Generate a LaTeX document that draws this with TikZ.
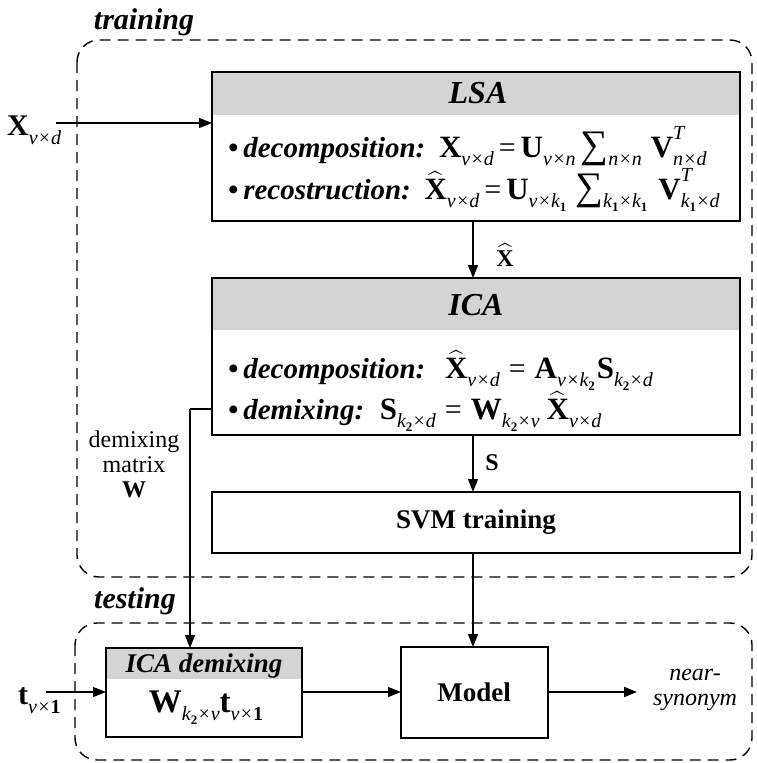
\documentclass[tikz,border=0pt]{standalone}
\usepackage{amsmath}
\usepackage{exscale}
\usepackage{graphicx}
\usepackage{fontspec}
\setmainfont{Liberation Serif}
\usetikzlibrary{arrows.meta}
\newcommand\mbx[1]{{\fontsize{31}{31}\selectfont\bfseries\upshape #1}}
\newcommand\sbt[1]{\raisebox{-0.3em}{\fontsize{20}{20}\selectfont\mdseries\itshape #1}}
\newcommand\one{\raisebox{-0.2em}{\fontsize{13}{13}\selectfont\bfseries\upshape 1}}
\newcommand\two{\raisebox{-0.2em}{\fontsize{13}{13}\selectfont\bfseries\upshape 2}}
\newcommand\uone{{\upshape\bfseries 1}}
\newcommand\spt[1]{\rlap{\raisebox{0.62em}{\fontsize{20}{20}\selectfont\mdseries\itshape #1}}}
\newcommand\Xhat{$\widehat{\hbox{\fontsize{31}{31}\selectfont\bfseries\upshape X}}$}
\newcommand\Sig{{\fontsize{30}{30}\selectfont\mdseries\upshape\scalebox{1.3}{∑}}}
\newcommand\eqs{\hspace{5pt}{\fontsize{30}{30}\selectfont\mdseries\upshape =}\hspace{5pt}}
\newcommand\eqw{\hspace{9pt}{\fontsize{30}{30}\selectfont\mdseries\upshape =}\hspace{9pt}}
\begin{document}
\begin{tikzpicture}[x=1pt,y=-1pt,
  blk/.style={draw,line width=2.4pt},
  hdr/.style={fill=black!17},
  dbox/.style={draw,dashed,line width=1.4pt,dash pattern=on 11pt off 7pt,rounded corners=22pt},
  arr/.style={line width=1.1pt,-{Triangle[length=13pt,width=10pt]}},
  ln/.style={line width=1.1pt},
  big/.style={font=\fontsize{30}{34}\selectfont\bfseries\itshape},
  ttl/.style={font=\fontsize{32}{36}\selectfont\bfseries\itshape},
  lab/.style={font=\fontsize{27}{30}\selectfont\bfseries},
  eq/.style={font=\fontsize{29}{32}\selectfont\bfseries\itshape,anchor=base west,inner sep=0pt}
]
\useasboundingbox (0,0) rectangle (757,763);
% dashed groups
\draw[dbox] (77,40) rectangle (752,577);
\draw[dbox] (75,623) rectangle (752,760);
\node[big] (trn) at (144,22) {training};
\node[big] (tst) at (135,601) {testing};
% LSA
\fill[hdr] (212,72) rectangle (740,115);
\draw[blk] (212,72) rectangle (740,221);
\node[ttl] (lsat) at (478,93) {LSA};
\node[eq] (l1) at (228,157) {•\hspace{5pt}decomposition:\hspace{4pt} \mbx{X}\sbt{v×d}\eqs\mbx{U}\sbt{v×n}\hspace{5pt}\Sig\sbt{n×n}\hspace{9pt}\mbx{V}\spt{T}\sbt{n×d}};
\node[eq] (l2) at (228,199) {•\hspace{5pt}recostruction:\hspace{4pt} \Xhat\sbt{v×d}\eqs\mbx{U}\sbt{v×k\one}\hspace{9pt}\Sig\sbt{k\one×k\one}\hspace{11pt}\mbx{V}\spt{T}\sbt{k\one×d}};
\coordinate (lsaL) at (212,123);
\coordinate (lsaB) at (473,221);
% ICA
\fill[hdr] (212,278) rectangle (740,330);
\draw[blk] (212,278) rectangle (740,435);
\node[ttl] (icat) at (476,305) {ICA};
\node[eq] (i1) at (228,378) {•\hspace{5pt}decomposition:\hspace{10pt} \Xhat\sbt{v×d}\eqw\mbx{A}\sbt{v×k\two}\hspace{2pt}\mbx{S}\sbt{k\two×d}};
\node[eq] (i2) at (228,419) {•\hspace{5pt}demixing:\hspace{6pt} \mbx{S}\sbt{k\two×d}\eqw\mbx{W}\sbt{k\two×v}\hspace{7pt}\Xhat\sbt{v×d}};
\coordinate (icaT) at (473,278);
\coordinate (icaB) at (473,435);
\coordinate (icaL) at (212,409);
% SVM
\draw[blk] (212,492) rectangle (740,553);
\node[font=\fontsize{27}{30}\selectfont\bfseries] (svm) at (476,522) {SVM training};
\coordinate (svmT) at (473,492);
\coordinate (svmB) at (473,553);
% ICA demixing
\fill[hdr] (106,648) rectangle (302,679);
\draw[blk] (106,648) rectangle (302,737);
\node[font=\fontsize{27}{30}\selectfont\bfseries\itshape] (idt) at (204,666) {ICA demixing};
\node[font=\fontsize{26}{30}\selectfont\bfseries\itshape] (idf) at (206,708) {{\fontsize{33}{33}\selectfont\bfseries\upshape W}\sbt{k\two×v}{\fontsize{33}{33}\selectfont\bfseries\upshape t}\sbt{v×\uone}};
\coordinate (idT) at (190,648);
\coordinate (idL) at (106,692);
\coordinate (idR) at (302,692);
% Model
\draw[blk] (401,647) rectangle (548,738);
\node[lab] (mdl) at (474,692) {Model};
\coordinate (mdT) at (473,647);
\coordinate (mdL) at (401,692);
\coordinate (mdR) at (548,692);
% inputs/outputs
\node[font=\fontsize{30}{32}\selectfont\bfseries,inner sep=0pt,anchor=base west] (xin) at (7,135) {X\sbt{v×d}};
\coordinate (xinR) at (56,123);
\node[font=\fontsize{30}{32}\selectfont\bfseries,inner sep=0pt,anchor=base west] (tin) at (18,704) {t\sbt{v×\uone}};
\coordinate (tinR) at (46,692);
\node[font=\fontsize{24}{25}\selectfont\itshape,align=center] (ns) at (695,690) {near-\\synonym};
\coordinate (nsL) at (637,692);
% labels
\node[font=\fontsize{24}{28}\selectfont\bfseries] (xh) at (505,255) {$\widehat{\hbox{\bfseries X}}$};
\node[font=\fontsize{24}{28}\selectfont\bfseries] (sl) at (492,463) {S};
\node[font=\fontsize{24}{25}\selectfont,align=center] (dm) at (134,464) {demixing\\matrix\\\textbf{W}};
% connectors
\draw[arr] (xinR) -- (lsaL);
\draw[arr] (lsaB) -- (icaT);
\draw[arr] (icaB) -- (svmT);
\draw[arr] (svmB) -- (mdT);
\draw[ln] (icaL) -- (190,409) coordinate (dk);
\draw[arr] (dk) -- (idT);
\draw[arr] (tinR) -- (idL);
\draw[arr] (idR) -- (mdL);
\draw[arr,line width=2pt] (mdR) -- (nsL);
\end{tikzpicture}
\end{document}
